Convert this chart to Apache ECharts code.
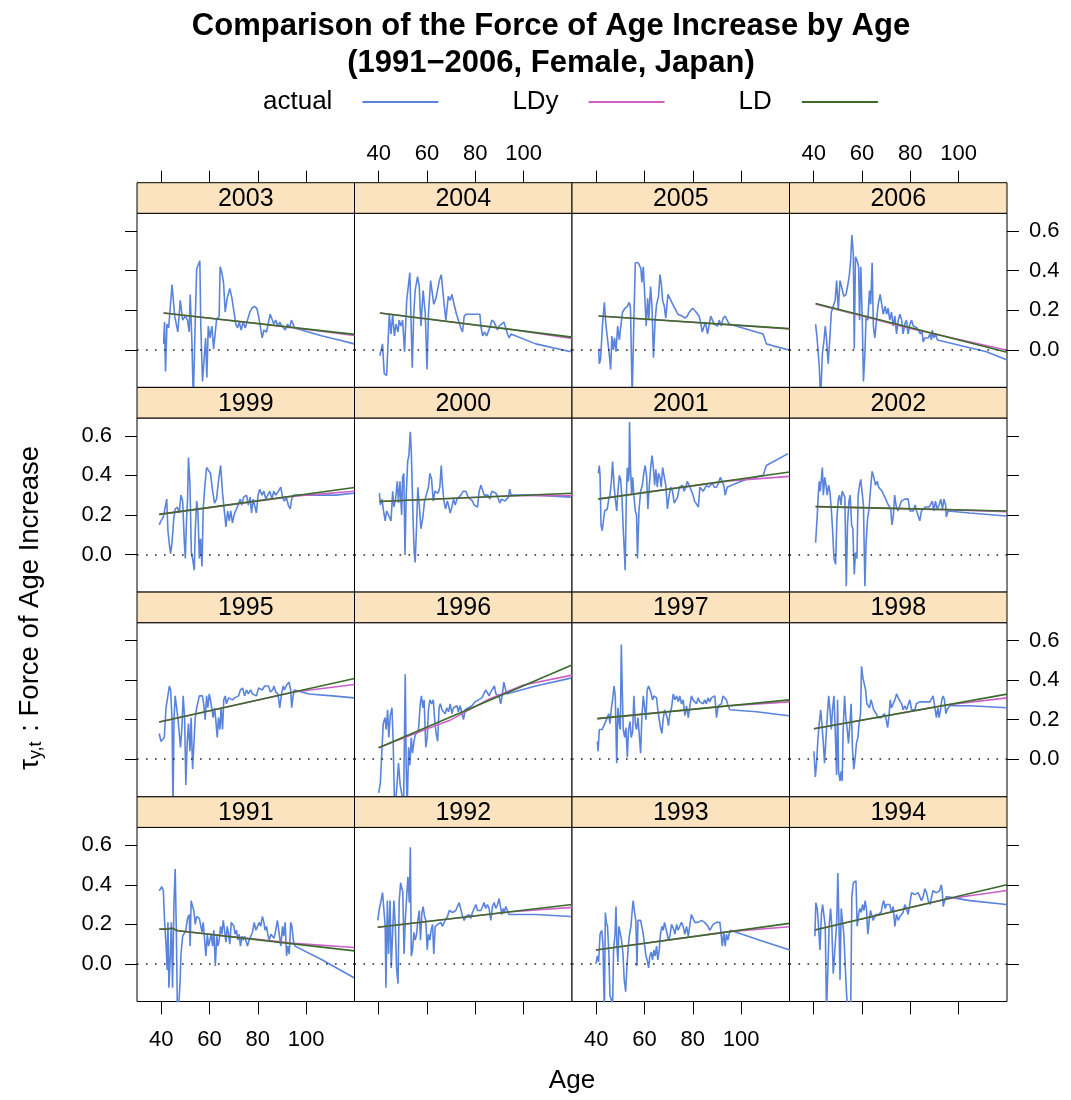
<!DOCTYPE html>
<html><head><meta charset="utf-8">
<script src="https://cdn.jsdelivr.net/npm/echarts@6/dist/echarts.min.js"></script>
<style>html,body{margin:0;padding:0;background:#fff}#c{width:1071px;height:1100px}</style>
</head><body><div id="c"></div>
<script>
// ---------- data ----------
const panelYears = [2003,2004,2005,2006,1999,2000,2001,2002,1995,1996,1997,1998,1991,1992,1993,1994];
const xTicks = [40,60,80,100];
const yTicks = [0.0,0.2,0.4,0.6];
const seriesNames = ['actual','LDy','LD'];

const actual2003 = [[41.0,0.03],[41.4,0.14],[41.8,-0.11],[42.4,0.13],[43.1,0.11],[44.5,0.33],[45.6,0.17],[46.9,0.09],[47.9,0.25],[48.9,0.15],[50.0,0.17],[50.9,0.15],[51.6,0.09],[52.0,0.28],[52.7,0.05],[53.3,-0.26],[54.1,0.15],[54.7,0.41],[55.3,0.41],[56.0,0.45],[56.4,0.12],[57.1,-0.16],[57.8,-0.16],[58.4,0.06],[58.9,-0.14],[59.5,0.12],[60.2,0.06],[61.0,0.12],[61.7,0.005],[62.4,-0.003],[62.9,0.15],[64.0,0.17],[64.4,0.42],[65.1,0.39],[65.8,0.34],[66.5,0.19],[67.3,0.26],[68.4,0.31],[69.3,0.26],[69.9,0.21],[70.9,0.13],[71.6,0.11],[72.3,0.14],[73.1,0.10],[73.9,0.14],[74.8,0.11],[75.7,0.15],[76.7,0.19],[77.5,0.21],[78.6,0.22],[79.6,0.21],[80.3,0.17],[81.0,0.12],[81.8,0.06],[82.5,0.10],[83.6,0.09],[84.4,0.08],[85.1,0.18],[85.9,0.17],[86.6,0.13],[87.4,0.15],[88.3,0.12],[89.1,0.14],[89.9,0.12],[90.7,0.13],[91.4,0.10],[92.3,0.13],[93.1,0.11],[93.9,0.15],[94.5,0.16],[95.2,0.11],[106.7,0.07],[113.6,0.05],[119.8,0.03]];
const ldy2003 = [[41,0.186],[94,0.113],[120,0.072]];
const ld2003 = [[41,0.186],[120,0.078]];

const actual2004 = [[40.5,-0.03],[41.6,0.03],[42.3,-0.12],[43.3,-0.13],[44.0,-0.13],[44.4,0.18],[45.1,0.08],[45.8,0.18],[46.5,0.07],[47.2,0.13],[48.0,0.09],[48.5,0.15],[49.2,0.12],[49.9,0.15],[50.7,-0.01],[51.6,0.25],[52.4,0.26],[52.9,0.39],[53.5,0.39],[53.9,-0.09],[54.5,0.18],[55.1,0.30],[56.1,0.37],[56.8,0.32],[57.5,0.12],[58.4,0.30],[59.3,0.18],[60.0,-0.10],[60.6,0.18],[61.5,0.35],[62.2,0.35],[62.8,0.23],[63.7,0.26],[64.4,0.27],[65.1,0.35],[65.9,0.38],[66.6,0.37],[67.1,0.23],[67.8,0.15],[68.8,0.27],[69.6,0.25],[70.3,0.28],[71.2,0.23],[72.2,0.18],[73.0,0.15],[74.0,0.11],[74.7,0.09],[75.4,0.17],[76.3,0.18],[77.5,0.18],[78.6,0.18],[79.5,0.18],[80.2,0.17],[80.9,0.18],[81.9,0.18],[82.3,0.12],[83.0,0.07],[83.8,0.09],[84.7,0.07],[85.5,0.08],[86.2,0.12],[86.8,0.15],[87.8,0.14],[88.5,0.12],[89.2,0.10],[89.8,0.12],[90.8,0.13],[91.8,0.14],[92.6,0.11],[93.3,0.08],[94.0,0.06],[94.7,0.08],[105.0,0.03],[119.5,-0.01]];
const ldy2004 = [[40.5,0.186],[95,0.103],[120,0.058]];
const ld2004 = [[40.5,0.186],[120,0.064]];

const actual2005 = [[41.0,0.005],[41.3,-0.07],[41.8,-0.05],[42.7,0.14],[43.4,0.24],[44.0,0.13],[44.7,0.12],[45.4,-0.02],[46.0,-0.10],[46.5,0.07],[47.1,0.00],[47.6,0.06],[48.2,-0.01],[48.9,0.12],[49.6,0.05],[50.1,0.11],[50.9,0.19],[51.9,0.21],[52.9,0.22],[53.7,0.24],[54.2,0.21],[54.9,-0.24],[55.6,0.15],[56.2,0.44],[57.4,0.44],[58.1,0.44],[58.5,0.41],[58.9,0.34],[59.5,0.42],[60.0,0.30],[60.7,0.12],[61.3,0.26],[61.8,0.15],[62.5,0.32],[63.1,0.22],[63.7,-0.04],[64.4,0.15],[65.0,0.23],[65.8,0.27],[66.4,0.38],[66.9,0.34],[67.5,0.25],[68.2,0.22],[68.8,0.16],[69.7,0.28],[70.5,0.27],[71.3,0.24],[72.1,0.22],[73.0,0.20],[73.8,0.18],[74.6,0.17],[75.7,0.17],[76.7,0.16],[77.7,0.17],[78.5,0.19],[79.2,0.20],[79.9,0.21],[80.7,0.22],[81.4,0.19],[82.1,0.19],[82.6,0.17],[83.2,0.14],[83.9,0.09],[84.5,0.09],[85.2,0.14],[86.1,0.08],[86.7,0.09],[87.4,0.17],[88.1,0.15],[88.8,0.13],[89.5,0.14],[90.3,0.12],[90.9,0.15],[91.8,0.12],[92.5,0.16],[93.4,0.17],[94.2,0.17],[95.0,0.13],[109.1,0.08],[110.4,0.03],[113.2,0.02],[119.4,0.0]];
const ldy2005 = [[41,0.171],[95,0.127],[120,0.105]];
const ld2005 = [[41,0.171],[120,0.107]];

const actual2006 = [[40.8,0.13],[41.4,0.06],[41.9,0.05],[42.3,-0.08],[42.9,-0.25],[43.6,-0.02],[44.3,0.05],[44.8,0.12],[45.3,0.06],[46.0,-0.07],[46.7,0.06],[47.3,0.19],[48.1,0.19],[48.9,0.25],[49.5,0.35],[50.2,0.20],[50.9,0.35],[51.7,0.34],[52.5,0.27],[53.4,0.28],[54.0,0.32],[54.7,0.37],[55.3,0.45],[55.8,0.58],[56.4,0.49],[56.8,0.005],[57.3,0.47],[58.0,0.45],[58.6,0.42],[59.0,0.15],[59.5,0.42],[60.1,0.16],[60.6,-0.16],[61.2,-0.02],[61.7,0.17],[62.4,0.15],[63.1,0.30],[63.6,0.23],[64.2,0.44],[64.7,0.12],[65.3,0.06],[66.0,0.15],[66.7,0.23],[67.5,0.28],[68.2,0.27],[68.8,0.18],[69.6,0.22],[70.2,0.18],[70.8,0.21],[71.5,0.15],[72.2,0.19],[72.9,0.12],[73.6,0.17],[74.3,0.08],[75.0,0.15],[75.7,0.18],[76.4,0.15],[77.0,0.08],[77.7,0.13],[78.4,0.15],[79.1,0.08],[79.8,0.13],[80.5,0.15],[81.2,0.12],[82.0,0.13],[82.8,0.11],[83.6,0.12],[84.2,0.08],[84.8,0.10],[85.3,0.04],[86.0,0.06],[86.7,0.05],[87.4,0.06],[88.1,0.08],[88.7,0.05],[89.1,0.10],[89.7,0.06],[90.5,0.08],[91.2,0.05],[91.9,0.06],[104.6,0.01],[111.5,-0.01],[119.8,-0.05]];
const ldy2006 = [[40.8,0.232],[80,0.108],[120,-0.002]];
const ld2006 = [[40.8,0.234],[120,-0.012]];

const actual1999 = [[39.2,0.15],[39.9,0.17],[40.9,0.19],[41.7,0.20],[42.3,0.28],[42.8,0.12],[43.4,0.05],[43.9,0.005],[44.5,0.06],[45.2,0.18],[45.8,0.23],[46.7,0.24],[47.5,0.21],[48.2,0.30],[48.9,0.27],[49.6,0.06],[50.0,-0.02],[50.5,0.18],[50.9,0.27],[51.3,0.49],[51.9,0.36],[52.5,0.01],[53.0,-0.02],[53.7,-0.08],[54.1,0.12],[54.7,0.27],[55.2,0.22],[55.8,-0.02],[56.3,0.08],[56.9,-0.06],[57.4,0.23],[58.1,0.35],[58.8,0.44],[59.6,0.44],[60.4,0.41],[61.3,0.32],[62.1,0.26],[62.9,0.28],[63.7,0.37],[64.6,0.45],[65.4,0.31],[66.1,0.31],[66.8,0.14],[67.5,0.22],[68.2,0.17],[68.8,0.22],[69.5,0.16],[70.4,0.21],[71.2,0.23],[72.0,0.22],[72.7,0.28],[73.4,0.25],[74.1,0.29],[74.6,0.28],[75.3,0.30],[76.1,0.25],[76.8,0.29],[77.4,0.21],[78.1,0.28],[78.8,0.29],[79.4,0.21],[80.1,0.30],[80.8,0.33],[81.7,0.30],[82.5,0.32],[83.3,0.28],[84.1,0.30],[85.0,0.32],[85.8,0.28],[86.6,0.32],[87.4,0.30],[88.5,0.32],[89.5,0.34],[90.2,0.29],[91.0,0.27],[91.8,0.29],[92.6,0.25],[93.4,0.23],[94.0,0.28],[94.9,0.30],[104.0,0.30],[112.2,0.30],[119.8,0.31]];
const ldy1999 = [[39.2,0.203],[95,0.295],[120,0.32]];
const ld1999 = [[39.2,0.203],[120,0.339]];

const actual2000 = [[40.3,0.31],[40.7,0.25],[41.4,0.28],[41.9,0.23],[42.7,0.17],[43.3,0.22],[43.8,0.23],[44.4,0.19],[45.1,0.17],[45.8,0.32],[46.3,0.24],[47.0,0.28],[47.7,0.37],[48.2,0.26],[48.8,0.37],[49.5,0.20],[49.9,0.39],[50.4,0.41],[50.9,-0.003],[51.4,0.30],[52.0,0.47],[52.5,0.50],[53.1,0.62],[53.5,0.52],[53.9,0.53],[54.3,0.15],[54.7,0.01],[55.1,-0.04],[55.7,0.15],[56.2,0.34],[56.8,0.25],[57.5,0.13],[58.2,0.18],[59.0,0.27],[59.8,0.28],[60.6,0.34],[61.2,0.41],[61.9,0.38],[62.6,0.27],[63.3,0.32],[63.9,0.33],[64.6,0.31],[65.3,0.34],[65.9,0.45],[66.4,0.35],[67.0,0.27],[67.7,0.23],[68.4,0.27],[68.9,0.25],[69.6,0.21],[70.3,0.24],[71.0,0.28],[71.7,0.25],[72.4,0.28],[73.1,0.27],[74.0,0.30],[75.0,0.32],[76.1,0.32],[77.0,0.29],[77.9,0.28],[78.8,0.27],[79.5,0.25],[80.2,0.26],[80.9,0.24],[81.6,0.32],[82.3,0.35],[83.0,0.34],[83.7,0.30],[84.3,0.31],[85.2,0.30],[86.0,0.28],[86.8,0.32],[87.6,0.33],[88.5,0.31],[89.3,0.29],[90.1,0.26],[90.8,0.28],[91.5,0.28],[92.3,0.27],[93.0,0.28],[93.7,0.29],[94.2,0.33],[94.8,0.30],[105.0,0.30],[119.5,0.29]];
const ldy2000 = [[40.3,0.268],[95,0.297],[120,0.298]];
const ld2000 = [[40.3,0.268],[120,0.31]];

const actual2001 = [[40.9,0.41],[41.3,0.45],[41.6,0.40],[42.0,0.15],[42.5,0.12],[42.9,0.11],[43.5,0.22],[44.0,0.21],[44.6,0.23],[45.2,0.28],[45.7,0.30],[46.3,0.37],[46.8,0.47],[47.4,0.35],[47.9,0.28],[48.5,0.22],[49.0,0.32],[49.6,0.40],[50.1,0.38],[50.7,0.28],[51.2,0.13],[51.6,0.03],[52.0,-0.08],[52.5,0.30],[52.9,0.44],[53.3,0.37],[53.6,0.41],[53.8,0.67],[54.2,0.44],[54.7,0.30],[55.1,0.39],[55.6,0.30],[56.2,0.22],[56.7,0.20],[57.1,-0.02],[57.7,0.22],[58.4,0.32],[59.1,0.35],[59.8,0.42],[60.3,0.45],[60.9,0.39],[61.4,0.23],[62.0,0.35],[62.5,0.43],[63.1,0.50],[63.6,0.45],[64.2,0.35],[64.7,0.43],[65.3,0.34],[65.8,0.41],[66.4,0.39],[66.9,0.34],[67.5,0.44],[68.2,0.44],[68.8,0.35],[69.5,0.23],[70.2,0.30],[70.9,0.34],[71.6,0.32],[72.3,0.26],[73.0,0.27],[73.7,0.29],[74.4,0.34],[75.0,0.33],[75.7,0.35],[76.4,0.32],[77.1,0.34],[77.7,0.37],[78.5,0.35],[79.3,0.34],[80.1,0.30],[80.7,0.27],[81.5,0.27],[82.3,0.24],[82.9,0.34],[83.6,0.35],[84.3,0.32],[85.0,0.32],[85.6,0.35],[86.5,0.34],[87.3,0.34],[88.1,0.36],[88.9,0.34],[89.8,0.34],[90.6,0.36],[91.4,0.39],[92.0,0.38],[92.8,0.35],[93.4,0.30],[94.2,0.34],[95.0,0.34],[96.0,0.35],[102.2,0.38],[109.1,0.40],[110.4,0.45],[119.4,0.51]];
const ldy2001 = [[40.9,0.282],[95,0.372],[120,0.395]];
const ld2001 = [[40.9,0.28],[120,0.417]];

const actual2002 = [[40.8,0.06],[41.4,0.18],[41.9,0.30],[42.3,0.37],[42.7,0.32],[43.1,0.37],[43.6,0.44],[44.0,0.30],[44.6,0.39],[45.1,0.35],[45.6,0.30],[46.2,0.35],[46.7,0.32],[47.3,0.23],[47.8,0.13],[48.4,-0.02],[49.1,-0.05],[49.6,0.18],[50.2,0.28],[50.7,0.30],[51.3,0.25],[51.8,0.32],[52.4,0.33],[52.9,0.29],[53.5,-0.16],[54.0,0.15],[54.6,0.27],[55.1,0.30],[55.7,0.15],[56.2,0.13],[56.8,-0.10],[57.3,0.01],[57.9,-0.02],[58.4,0.30],[59.0,0.35],[59.5,0.38],[60.1,0.39],[60.6,0.25],[61.2,-0.16],[61.7,0.06],[62.3,0.18],[62.9,0.23],[63.6,0.34],[64.2,0.42],[64.9,0.39],[65.6,0.35],[66.3,0.37],[66.9,0.34],[67.6,0.35],[68.3,0.32],[69.0,0.30],[69.8,0.28],[70.5,0.26],[71.2,0.25],[71.9,0.23],[72.4,0.15],[73.0,0.20],[73.5,0.30],[74.2,0.24],[74.9,0.22],[75.6,0.21],[76.3,0.27],[77.0,0.28],[77.7,0.28],[78.4,0.28],[79.1,0.28],[79.8,0.22],[80.5,0.23],[81.2,0.22],[82.0,0.25],[82.6,0.22],[83.2,0.23],[83.9,0.17],[84.6,0.22],[85.3,0.23],[86.1,0.24],[86.9,0.23],[87.8,0.24],[88.4,0.23],[89.1,0.27],[89.7,0.22],[90.4,0.27],[91.1,0.23],[91.9,0.25],[92.6,0.28],[93.3,0.23],[93.9,0.28],[94.6,0.25],[94.9,0.19],[95.6,0.22],[104.6,0.21],[119.8,0.195]];
const ldy2002 = [[40.8,0.242],[95,0.227],[120,0.216]];
const ld2002 = [[40.8,0.242],[120,0.22]];

const actual1995 = [[39.2,0.13],[39.9,0.09],[40.6,0.08],[41.3,0.11],[42.0,0.26],[42.7,0.26],[43.4,0.37],[43.9,0.35],[44.5,0.20],[44.9,-0.25],[45.3,0.20],[45.8,0.32],[46.4,0.32],[46.9,0.21],[47.5,0.13],[48.0,0.06],[48.6,0.16],[49.1,0.32],[49.7,0.21],[50.2,-0.13],[50.8,0.09],[51.3,0.18],[51.9,0.04],[52.4,0.21],[53.0,-0.05],[53.6,0.09],[54.1,0.21],[54.7,0.26],[55.2,0.26],[55.8,0.32],[56.4,0.32],[57.1,0.32],[57.7,0.27],[58.2,0.20],[58.8,0.32],[59.3,0.26],[59.9,0.33],[60.4,0.30],[61.0,0.30],[61.5,0.21],[62.1,0.26],[62.6,0.20],[63.2,0.11],[63.7,0.21],[64.3,0.15],[64.8,0.26],[65.4,0.15],[65.9,0.30],[66.5,0.32],[67.0,0.28],[67.9,0.31],[68.7,0.32],[69.5,0.30],[70.4,0.31],[71.2,0.32],[72.0,0.32],[72.8,0.35],[73.7,0.36],[74.5,0.32],[75.3,0.35],[76.1,0.33],[77.0,0.35],[77.8,0.33],[78.6,0.34],[79.4,0.32],[80.3,0.36],[81.1,0.37],[81.9,0.35],[82.8,0.37],[83.6,0.36],[84.4,0.37],[85.2,0.34],[86.1,0.35],[86.7,0.37],[87.4,0.34],[88.3,0.33],[89.1,0.26],[89.8,0.33],[90.5,0.37],[91.0,0.35],[91.7,0.37],[92.4,0.37],[92.9,0.39],[93.6,0.35],[94.0,0.26],[94.6,0.32],[95.1,0.35],[101.2,0.33],[110.8,0.32],[119.8,0.31]];
const ldy1995 = [[39.2,0.188],[95,0.34],[120,0.378]];
const ld1995 = [[39.2,0.188],[120,0.408]];

const actual1996 = [[40.0,-0.17],[40.7,-0.12],[41.4,0.06],[41.9,0.18],[42.6,0.21],[43.1,0.15],[43.7,0.25],[44.2,0.11],[44.8,0.22],[45.5,0.26],[46.0,0.09],[46.6,-0.25],[47.4,-0.16],[48.2,-0.02],[48.9,-0.13],[49.6,-0.18],[50.3,-0.24],[51.0,0.43],[51.4,-0.04],[51.8,-0.25],[52.4,0.06],[52.9,-0.03],[53.5,0.11],[54.0,0.03],[54.6,0.09],[55.1,0.12],[55.8,0.13],[56.5,0.15],[57.2,0.28],[57.7,0.32],[58.3,0.26],[58.8,0.30],[59.5,0.06],[60.1,0.11],[60.6,0.25],[61.2,0.30],[61.9,0.28],[62.6,0.30],[63.3,0.18],[63.8,0.13],[64.4,0.09],[65.0,0.26],[65.5,0.28],[66.2,0.25],[66.9,0.26],[67.5,0.23],[68.2,0.26],[68.9,0.24],[69.6,0.28],[70.3,0.23],[71.0,0.26],[71.7,0.25],[72.4,0.27],[73.0,0.24],[73.7,0.27],[74.4,0.26],[75.1,0.20],[75.8,0.25],[76.5,0.25],[77.2,0.26],[77.9,0.25],[78.6,0.27],[79.2,0.28],[79.9,0.29],[80.6,0.28],[81.3,0.30],[82.0,0.29],[82.7,0.31],[83.5,0.32],[84.3,0.35],[85.0,0.36],[85.7,0.32],[86.4,0.34],[87.1,0.35],[87.9,0.37],[88.5,0.33],[89.2,0.33],[89.8,0.32],[90.5,0.28],[91.2,0.33],[91.8,0.39],[92.3,0.40],[92.9,0.33],[93.7,0.32],[105.0,0.37],[119.5,0.41]];
const ldy1996 = [[40,0.058],[55,0.13],[70,0.2],[85,0.30],[100,0.375],[120,0.425]];
const ld1996 = [[40,0.058],[120,0.476]];

const actual1997 = [[40.5,0.09],[40.8,0.04],[41.3,0.15],[41.8,0.16],[42.5,0.15],[43.2,0.17],[43.9,0.19],[44.6,0.21],[45.2,0.23],[45.7,0.18],[46.3,0.26],[46.8,0.30],[47.4,0.37],[47.9,0.32],[48.5,-0.02],[49.0,0.26],[49.6,0.18],[50.0,0.15],[50.4,0.58],[50.8,0.35],[51.2,0.15],[51.8,0.11],[52.3,0.16],[52.9,0.01],[53.4,0.15],[54.0,0.19],[54.5,0.11],[55.1,0.14],[55.6,0.32],[56.2,0.18],[56.7,0.15],[57.3,0.21],[57.8,0.20],[58.4,0.03],[58.9,0.21],[59.5,0.32],[60.0,0.33],[60.6,0.20],[61.1,0.35],[61.7,0.37],[62.2,0.38],[62.8,0.33],[63.3,0.30],[63.9,0.32],[64.4,0.32],[65.0,0.31],[65.5,0.25],[66.1,0.20],[66.6,0.16],[67.2,0.13],[67.7,0.20],[68.3,0.25],[68.8,0.26],[69.4,0.21],[69.9,0.17],[70.5,0.23],[71.2,0.26],[71.9,0.33],[72.6,0.30],[73.3,0.32],[74.0,0.29],[74.6,0.32],[75.3,0.28],[76.0,0.30],[76.7,0.22],[77.4,0.27],[78.1,0.21],[78.8,0.27],[79.4,0.32],[80.1,0.30],[80.8,0.31],[81.5,0.28],[82.2,0.31],[82.9,0.29],[83.6,0.30],[84.3,0.28],[84.9,0.30],[85.6,0.28],[86.3,0.31],[87.0,0.29],[87.7,0.31],[88.4,0.30],[89.1,0.32],[89.8,0.21],[90.5,0.27],[91.2,0.26],[91.8,0.28],[92.5,0.32],[93.2,0.32],[93.9,0.30],[94.6,0.27],[95.3,0.25],[106.3,0.24],[119.8,0.22]];
const ldy1997 = [[40.5,0.205],[95,0.27],[120,0.29]];
const ld1997 = [[40.5,0.205],[120,0.30]];

const actual1998 = [[40.1,0.04],[40.7,-0.09],[41.2,-0.02],[41.8,0.11],[42.3,0.18],[42.9,0.25],[43.4,0.18],[44.0,0.08],[44.5,-0.02],[45.1,0.11],[45.6,0.21],[46.2,0.32],[46.7,0.26],[47.3,0.15],[47.8,0.25],[48.4,0.32],[48.9,0.15],[49.5,-0.08],[49.9,0.30],[50.3,-0.06],[50.9,-0.11],[51.4,-0.06],[51.8,-0.11],[52.2,0.15],[52.8,0.32],[53.3,0.21],[53.9,0.15],[54.4,0.08],[55.0,0.18],[55.5,0.28],[56.1,0.04],[56.6,-0.05],[57.2,0.01],[57.7,0.08],[58.3,0.11],[58.8,0.18],[59.4,0.23],[59.8,0.47],[60.4,0.41],[60.9,0.41],[61.5,0.35],[62.0,0.28],[62.6,0.29],[63.1,0.26],[63.7,0.30],[64.2,0.28],[64.8,0.25],[65.3,0.26],[65.9,0.23],[66.6,0.21],[67.3,0.20],[67.9,0.21],[68.6,0.22],[69.3,0.23],[70.0,0.20],[70.6,0.16],[71.1,0.21],[71.7,0.30],[72.2,0.26],[72.9,0.27],[73.6,0.30],[74.3,0.33],[75.0,0.31],[75.7,0.31],[76.4,0.28],[77.0,0.25],[77.7,0.27],[78.4,0.25],[79.1,0.26],[79.8,0.30],[80.5,0.25],[81.2,0.26],[81.9,0.25],[82.5,0.28],[83.2,0.28],[83.9,0.29],[84.6,0.28],[85.3,0.29],[86.0,0.28],[86.7,0.29],[87.4,0.30],[88.1,0.29],[88.7,0.30],[89.4,0.32],[90.1,0.32],[90.8,0.21],[91.4,0.26],[91.9,0.21],[92.5,0.25],[93.0,0.30],[93.6,0.32],[94.1,0.30],[94.7,0.23],[95.2,0.25],[96.3,0.27],[104.6,0.27],[119.8,0.26]];
const ldy1998 = [[40.1,0.154],[95,0.274],[120,0.31]];
const ld1998 = [[40.1,0.154],[120,0.329]];

const actual1991 = [[39.2,0.37],[39.8,0.38],[40.3,0.39],[40.9,0.37],[41.4,0.22],[42.0,0.10],[42.5,-0.03],[42.8,0.21],[43.2,-0.12],[43.8,0.05],[44.2,0.21],[44.7,-0.12],[45.3,0.31],[45.8,0.48],[46.3,0.15],[46.7,-0.24],[47.2,-0.22],[47.8,-0.10],[48.2,0.05],[48.9,0.14],[49.6,0.15],[50.2,0.17],[50.9,0.23],[51.6,0.25],[52.0,0.09],[52.4,0.32],[53.0,0.29],[53.5,0.27],[54.1,0.20],[54.7,0.24],[55.2,0.23],[55.8,0.23],[56.3,0.22],[56.9,0.16],[57.4,0.21],[58.0,0.22],[58.5,0.04],[59.1,0.15],[59.6,0.09],[60.2,0.09],[60.7,0.15],[61.3,0.09],[61.8,0.17],[62.4,-0.01],[63.0,0.14],[63.5,0.09],[64.0,0.12],[64.6,0.19],[65.1,0.15],[65.7,0.22],[66.2,0.17],[66.8,0.11],[67.3,0.19],[67.9,0.15],[68.4,0.10],[69.0,0.21],[69.5,0.22],[70.1,0.19],[70.6,0.15],[71.2,0.17],[71.7,0.12],[72.3,0.15],[72.8,0.09],[73.4,0.14],[73.9,0.12],[74.5,0.14],[75.0,0.12],[75.7,0.09],[76.4,0.12],[77.1,0.13],[77.8,0.16],[78.5,0.21],[79.2,0.17],[79.9,0.19],[80.6,0.21],[81.2,0.19],[81.9,0.24],[82.5,0.21],[83.0,0.17],[83.6,0.19],[84.1,0.15],[84.7,0.12],[85.4,0.15],[86.1,0.14],[86.7,0.13],[87.4,0.17],[88.1,0.22],[88.8,0.21],[89.5,0.09],[90.2,0.19],[90.7,0.14],[91.3,0.21],[91.9,0.04],[92.4,0.09],[93.0,0.05],[93.6,0.21],[94.1,0.19],[94.7,0.12],[95.4,0.09],[106.7,0.02],[119.8,-0.07]];
const ldy1991 = [[39.2,0.175],[44.5,0.18],[47,0.168],[95,0.104],[120,0.083]];
const ld1991 = [[39.2,0.175],[43,0.177],[44.5,0.18],[47,0.168],[120,0.066]];

const actual1992 = [[39.6,0.22],[40.3,0.28],[41.0,0.32],[41.6,0.36],[42.3,0.37],[42.7,0.19],[43.0,-0.12],[43.6,0.32],[44.1,0.05],[44.7,0.32],[45.2,-0.02],[45.8,-0.03],[46.3,0.32],[46.9,0.19],[47.4,-0.02],[48.0,-0.10],[48.5,0.32],[49.1,0.41],[49.6,0.42],[50.0,0.36],[50.5,0.05],[51.0,0.22],[51.5,0.32],[52.1,0.44],[52.7,0.31],[53.1,0.59],[53.5,0.04],[54.0,0.07],[54.6,0.16],[55.1,0.12],[55.7,0.15],[56.2,0.22],[56.8,0.27],[57.3,0.12],[57.9,0.26],[58.4,0.29],[59.0,0.24],[59.5,0.22],[60.1,0.07],[60.6,0.15],[61.2,0.12],[61.7,0.17],[62.3,0.20],[62.8,0.05],[63.4,0.19],[63.9,0.18],[64.5,0.20],[65.0,0.19],[65.7,0.21],[66.4,0.19],[67.1,0.21],[67.8,0.21],[68.5,0.24],[69.2,0.27],[69.9,0.28],[70.6,0.26],[71.2,0.26],[71.9,0.27],[72.6,0.26],[73.3,0.31],[74.0,0.32],[74.7,0.24],[75.4,0.22],[76.1,0.24],[76.8,0.23],[77.5,0.25],[78.1,0.23],[78.8,0.26],[79.5,0.28],[80.2,0.30],[80.9,0.27],[81.6,0.26],[82.3,0.27],[83.0,0.29],[83.6,0.31],[84.3,0.28],[85.0,0.30],[85.7,0.28],[86.4,0.22],[87.1,0.29],[87.8,0.31],[88.5,0.28],[89.2,0.30],[89.8,0.33],[90.4,0.29],[90.9,0.25],[91.5,0.28],[92.0,0.26],[92.6,0.29],[93.3,0.27],[93.9,0.25],[94.6,0.26],[105.0,0.25],[119.5,0.24]];
const ldy1992 = [[39.6,0.185],[95,0.264],[120,0.286]];
const ld1992 = [[39.6,0.185],[120,0.30]];

const actual1993 = [[39.9,0.0],[40.5,0.04],[41.0,0.01],[41.6,0.15],[42.3,0.17],[42.8,0.10],[43.4,-0.25],[43.8,0.26],[44.2,0.21],[44.7,0.19],[45.3,0.04],[45.7,-0.16],[46.3,-0.18],[46.8,-0.22],[47.2,0.07],[47.8,0.15],[48.2,0.29],[48.6,0.09],[49.0,0.01],[49.4,0.19],[50.0,0.19],[50.5,0.12],[51.1,0.05],[51.6,-0.08],[52.2,-0.14],[52.7,-0.02],[53.3,0.09],[53.8,0.15],[54.4,0.19],[54.9,0.27],[55.3,0.32],[55.9,0.26],[56.4,0.22],[56.9,-0.01],[57.3,0.22],[57.8,0.21],[58.4,0.22],[58.9,0.21],[59.5,0.15],[60.0,0.10],[60.6,0.04],[61.1,0.02],[61.7,-0.02],[62.2,0.04],[62.8,0.06],[63.3,0.02],[63.9,0.07],[64.4,0.04],[65.0,0.09],[65.5,0.02],[66.1,0.07],[66.6,0.15],[67.2,0.19],[67.7,0.17],[68.3,0.21],[68.8,0.20],[69.4,0.15],[69.9,0.12],[70.5,0.14],[71.2,0.20],[71.9,0.18],[72.6,0.15],[73.3,0.20],[73.9,0.17],[74.6,0.16],[75.3,0.21],[76.0,0.19],[76.7,0.15],[77.4,0.19],[78.1,0.14],[78.8,0.15],[79.4,0.25],[80.1,0.24],[80.8,0.21],[81.5,0.21],[82.2,0.21],[82.9,0.21],[83.6,0.22],[84.3,0.23],[84.9,0.21],[85.6,0.20],[86.3,0.19],[87.0,0.17],[87.7,0.16],[88.4,0.20],[89.1,0.21],[89.8,0.21],[90.5,0.21],[91.2,0.21],[91.8,0.21],[92.2,0.09],[92.8,0.16],[93.4,0.09],[93.9,0.15],[94.5,0.12],[95.0,0.15],[95.6,0.17],[107.7,0.12],[120.1,0.07]];
const ldy1993 = [[39.9,0.07],[95,0.163],[120,0.188]];
const ld1993 = [[39.9,0.07],[120,0.205]];

const actual1994 = [[40.5,0.14],[40.9,0.31],[41.5,0.28],[42.0,0.19],[42.6,0.07],[43.2,0.25],[43.7,0.30],[44.3,0.30],[44.8,0.19],[45.3,-0.24],[45.9,-0.02],[46.4,0.19],[47.0,0.28],[47.5,0.19],[48.1,-0.05],[48.6,-0.06],[49.2,0.15],[49.6,0.23],[50.0,0.46],[50.5,0.19],[50.9,-0.08],[51.4,0.28],[52.0,0.27],[52.5,0.15],[53.1,-0.02],[53.6,-0.15],[54.2,-0.24],[55.3,-0.26],[55.8,0.34],[56.4,0.41],[57.5,0.42],[58.0,0.19],[58.6,0.25],[59.1,0.28],[59.7,0.26],[60.2,0.30],[60.8,0.27],[61.3,0.32],[61.9,0.27],[62.4,0.15],[63.0,0.22],[63.5,0.27],[64.1,0.26],[64.6,0.22],[65.2,0.23],[65.7,0.25],[66.3,0.24],[66.8,0.25],[67.4,0.25],[67.9,0.26],[68.5,0.30],[69.0,0.32],[69.6,0.28],[70.1,0.30],[70.8,0.29],[71.5,0.30],[72.2,0.26],[72.9,0.29],[73.6,0.19],[74.3,0.25],[75.0,0.22],[75.7,0.24],[76.4,0.23],[77.0,0.26],[77.7,0.30],[78.4,0.28],[79.1,0.25],[79.8,0.26],[80.5,0.36],[81.2,0.37],[81.9,0.35],[82.6,0.34],[83.2,0.36],[83.9,0.34],[84.6,0.32],[85.3,0.34],[86.0,0.38],[86.7,0.36],[87.4,0.32],[88.1,0.30],[88.7,0.29],[89.4,0.37],[90.1,0.36],[90.8,0.36],[91.5,0.36],[92.1,0.37],[92.8,0.40],[93.2,0.37],[93.6,0.29],[94.2,0.32],[94.9,0.34],[95.6,0.33],[104.6,0.32],[119.8,0.30]];
const ldy1994 = [[40.5,0.171],[95,0.328],[120,0.371]];
const ld1994 = [[40.5,0.171],[120,0.40]];

const dataByYear = {
  1991:[actual1991,ldy1991,ld1991],1992:[actual1992,ldy1992,ld1992],1993:[actual1993,ldy1993,ld1993],1994:[actual1994,ldy1994,ld1994],
  1995:[actual1995,ldy1995,ld1995],1996:[actual1996,ldy1996,ld1996],1997:[actual1997,ldy1997,ld1997],1998:[actual1998,ldy1998,ld1998],
  1999:[actual1999,ldy1999,ld1999],2000:[actual2000,ldy2000,ld2000],2001:[actual2001,ldy2001,ld2001],2002:[actual2002,ldy2002,ld2002],
  2003:[actual2003,ldy2003,ld2003],2004:[actual2004,ldy2004,ld2004],2005:[actual2005,ldy2005,ld2005],2006:[actual2006,ldy2006,ld2006]
};

// ---------- layout / style ----------
const FONT = 'Liberation Sans, Arial, Helvetica, sans-serif';
const COLORS = ['#5a84dc', '#cc5fc8', '#3a6b2a'];
const X0 = 137, COLW = 217.5, STRIP0 = 182.7, ROWH = 204.7, STRIPH = 30.6, PANELH = ROWH - STRIPH;
const XMIN = 30, XMAX = 120, YMIN = -0.19, YMAX = 0.69;

const grids = [], xAxes = [], yAxes = [], series = [], graphics = [];
panelYears.forEach((yr, i) => {
  const col = i % 4, row = Math.floor(i / 4);
  const left = X0 + col * COLW, stripTop = STRIP0 + row * ROWH, top = stripTop + STRIPH;
  grids.push({left: left, top: top, width: COLW, height: PANELH, show: true, borderColor: '#000', borderWidth: 1, backgroundColor: '#fff'});
  const axisCommon = {type: 'value', gridIndex: i, min: XMIN, max: XMAX, splitLine: {show: false}, axisLine: {show: false, onZero: false}};
  xAxes.push(Object.assign({}, axisCommon, {position: 'bottom', show: row === 3,
    axisTick: {show: true, length: 13, customValues: xTicks, lineStyle: {color: '#000'}},
    axisLabel: {show: row === 3 && (col === 0 || col === 2), customValues: xTicks, fontSize: 22, fontFamily: FONT, color: '#000', margin: 27}}));
  xAxes.push(Object.assign({}, axisCommon, {position: 'top', offset: STRIPH, show: row === 0,
    axisTick: {show: true, length: 12, customValues: xTicks, lineStyle: {color: '#000'}},
    axisLabel: {show: row === 0 && (col === 1 || col === 3), customValues: xTicks, fontSize: 22, fontFamily: FONT, color: '#000', margin: 18}}));
  const yCommon = {type: 'value', gridIndex: i, min: YMIN, max: YMAX, splitLine: {show: false}, axisLine: {show: false, onZero: false}};
  yAxes.push(Object.assign({}, yCommon, {position: 'left', show: col === 0,
    axisTick: {show: true, length: 12, customValues: yTicks, lineStyle: {color: '#000'}},
    axisLabel: {show: col === 0 && (row === 1 || row === 3), customValues: yTicks, fontSize: 22, fontFamily: FONT, color: '#000', margin: 25, formatter: v => v.toFixed(1)}}));
  yAxes.push(Object.assign({}, yCommon, {position: 'right', show: col === 3,
    axisTick: {show: true, length: 12, customValues: yTicks, lineStyle: {color: '#000'}},
    axisLabel: {show: col === 3 && (row === 0 || row === 2), customValues: yTicks, fontSize: 22, fontFamily: FONT, color: '#000', margin: 22, formatter: v => v.toFixed(1)}}));

  const d = dataByYear[yr];
  seriesNames.forEach((nm, k) => {
    const s = {name: nm, type: 'line', xAxisIndex: 2 * i, yAxisIndex: 2 * i, data: d[k], showSymbol: false, symbol: 'none',
      clip: true, silent: true, z: 3 + k, lineStyle: {color: COLORS[k], width: 1.6}, itemStyle: {color: COLORS[k]}};
    if (k === 0) {
      s.markLine = {silent: true, symbol: 'none', label: {show: false}, animation: false,
        lineStyle: {color: '#222', type: [1.6, 7.4], width: 1.6}, data: [{yAxis: 0}]};
    }
    series.push(s);
  });

  graphics.push({type: 'rect', shape: {x: left, y: stripTop, width: COLW, height: STRIPH},
    style: {fill: '#fbe3c0', stroke: '#000', lineWidth: 1}, z: 10});
  graphics.push({type: 'text', x: left + COLW / 2, y: stripTop + STRIPH / 2 + 1, z: 11,
    style: {text: String(yr), font: '25px ' + FONT, fill: '#000', textAlign: 'center', textVerticalAlign: 'middle'}});
});

graphics.push({type: 'text', x: 551, y: 26, style: {text: 'Comparison of the Force of Age Increase by Age', font: 'bold 31px ' + FONT, fill: '#000', textAlign: 'center', textVerticalAlign: 'middle'}});
graphics.push({type: 'text', x: 551, y: 63, style: {text: '(1991\u22122006, Female, Japan)', font: 'bold 31px ' + FONT, fill: '#000', textAlign: 'center', textVerticalAlign: 'middle'}});
graphics.push({type: 'text', x: 572, y: 1081, style: {text: 'Age', font: '26px ' + FONT, fill: '#000', textAlign: 'center', textVerticalAlign: 'middle'}});
graphics.push({type: 'text', x: 30, y: 608, rotation: Math.PI / 2,
  style: {text: '{t|\u03c4}{s|y,t}{n| : Force of Age Increase}', textAlign: 'center', textVerticalAlign: 'middle', fill: '#000',
    rich: {t: {fontSize: 28, fontFamily: FONT}, s: {fontSize: 18, fontFamily: FONT, padding: [12, 2, 0, 0]}, n: {fontSize: 27.5, fontFamily: FONT}}}});

const chart = echarts.init(document.getElementById('c'), null, {renderer: 'canvas'});
chart.setOption({
  animation: false,
  backgroundColor: '#fff',
  legend: {data: seriesNames, left: 258, top: 84, align: 'right', icon: 'rect', itemWidth: 76, itemHeight: 2, itemGap: 74,
    textStyle: {fontSize: 26, fontFamily: FONT, color: '#000', padding: [0, 25, 0, 0]}, selectedMode: false},
  grid: grids, xAxis: xAxes, yAxis: yAxes, series: series, graphic: graphics
});
</script></body></html>
